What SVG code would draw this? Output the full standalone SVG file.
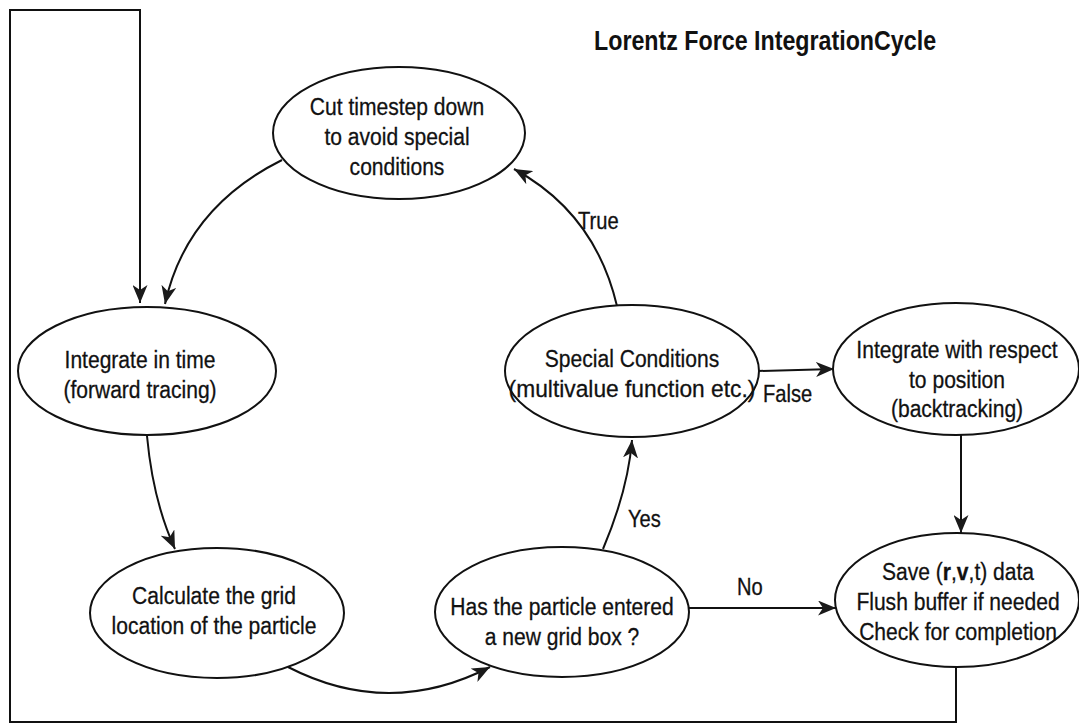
<svg xmlns="http://www.w3.org/2000/svg" width="1079" height="727" viewBox="0 0 1079 727">
<style>
.n ellipse{fill:#fff;stroke:#111;stroke-width:2}
.n text,.lbl{font-family:"Liberation Sans",Arial,sans-serif;font-size:24.5px;fill:#111;stroke:#111;stroke-width:0.3;text-anchor:middle}
.lbl{font-size:24px;text-anchor:start}
.c path{fill:none;stroke:#111;stroke-width:2}
.title{font-family:"Liberation Sans",Arial,sans-serif;font-size:28px;font-weight:bold;fill:#111}
</style>
<defs>
<marker id="ah" markerUnits="userSpaceOnUse" markerWidth="18" markerHeight="15" refX="18" refY="7.5" orient="auto">
<path d="M0,0 L18,7.5 L0,15 L5,7.5 Z" fill="#1a1a1a"/>
</marker>
</defs>
<rect width="1079" height="727" fill="#fff"/>
<text class="title" transform="translate(594,50) scale(0.83,1)">Lorentz Force IntegrationCycle</text>
<g class="c" id="connectors">
<path d="M956,667 L956,722 L10,722 L10,10 L140,10 L140,303" marker-end="url(#ah)"/>
<path d="M282,160 Q186,208 165,304" marker-end="url(#ah)"/>
<path d="M147,436 Q153,501 175,549" marker-end="url(#ah)"/>
<path d="M288,667 Q389,719 490,667" marker-end="url(#ah)"/>
<path d="M603,549 Q628,490 632,440" marker-end="url(#ah)"/>
<path d="M617,306 Q595,213 514,169" marker-end="url(#ah)"/>
<path d="M758,371 L834,369" marker-end="url(#ah)"/>
<path d="M961,435 L961,533" marker-end="url(#ah)"/>
<path d="M688,608 L836,608" marker-end="url(#ah)"/>
</g>
<text class="lbl" transform="translate(578,229) scale(0.84,1)">True</text>
<text class="lbl" transform="translate(763,402) scale(0.84,1)">False</text>
<text class="lbl" transform="translate(628,527) scale(0.84,1)">Yes</text>
<text class="lbl" transform="translate(737,595) scale(0.84,1)">No</text>
<g class="n" id="cut">
<ellipse cx="399" cy="133" rx="126" ry="66"/>
<text transform="translate(397,115) scale(0.86,1)">Cut timestep down</text>
<text transform="translate(397,145) scale(0.86,1)">to avoid special</text>
<text transform="translate(397,175) scale(0.86,1)">conditions</text>
</g>
<g class="n" id="integrate-time">
<ellipse cx="147" cy="371" rx="129" ry="64"/>
<text transform="translate(140,368) scale(0.86,1)">Integrate in time</text>
<text transform="translate(140,398) scale(0.86,1)">(forward tracing)</text>
</g>
<g class="n" id="calculate">
<ellipse cx="217" cy="613" rx="127" ry="65"/>
<text transform="translate(214,604) scale(0.86,1)">Calculate the grid</text>
<text transform="translate(214,634) scale(0.86,1)">location of the particle</text>
</g>
<g class="n" id="has-entered">
<ellipse cx="562" cy="612" rx="127" ry="65"/>
<text transform="translate(562,615) scale(0.86,1)">Has the particle entered</text>
<text transform="translate(562,645) scale(0.86,1)">a new grid box ?</text>
</g>
<g class="n" id="special">
<ellipse cx="632" cy="371" rx="127" ry="66"/>
<text transform="translate(632,367) scale(0.86,1)">Special Conditions</text>
<text transform="translate(632,397) scale(0.93,1)">(multivalue function etc.)</text>
</g>
<g class="n" id="integrate-position">
<ellipse cx="956" cy="369" rx="123" ry="66"/>
<text transform="translate(957,358) scale(0.86,1)">Integrate with respect</text>
<text transform="translate(957,388) scale(0.86,1)">to position</text>
<text transform="translate(957,417) scale(0.86,1)">(backtracking)</text>
</g>
<g class="n" id="save">
<ellipse cx="957" cy="600" rx="122" ry="67"/>
<text transform="translate(958,580) scale(0.86,1)">Save (<tspan font-weight="bold">r</tspan>,<tspan font-weight="bold">v</tspan>,t) data</text>
<text transform="translate(958,610) scale(0.86,1)">Flush buffer if needed</text>
<text transform="translate(958,640) scale(0.86,1)">Check for completion</text>
</g>
</svg>
